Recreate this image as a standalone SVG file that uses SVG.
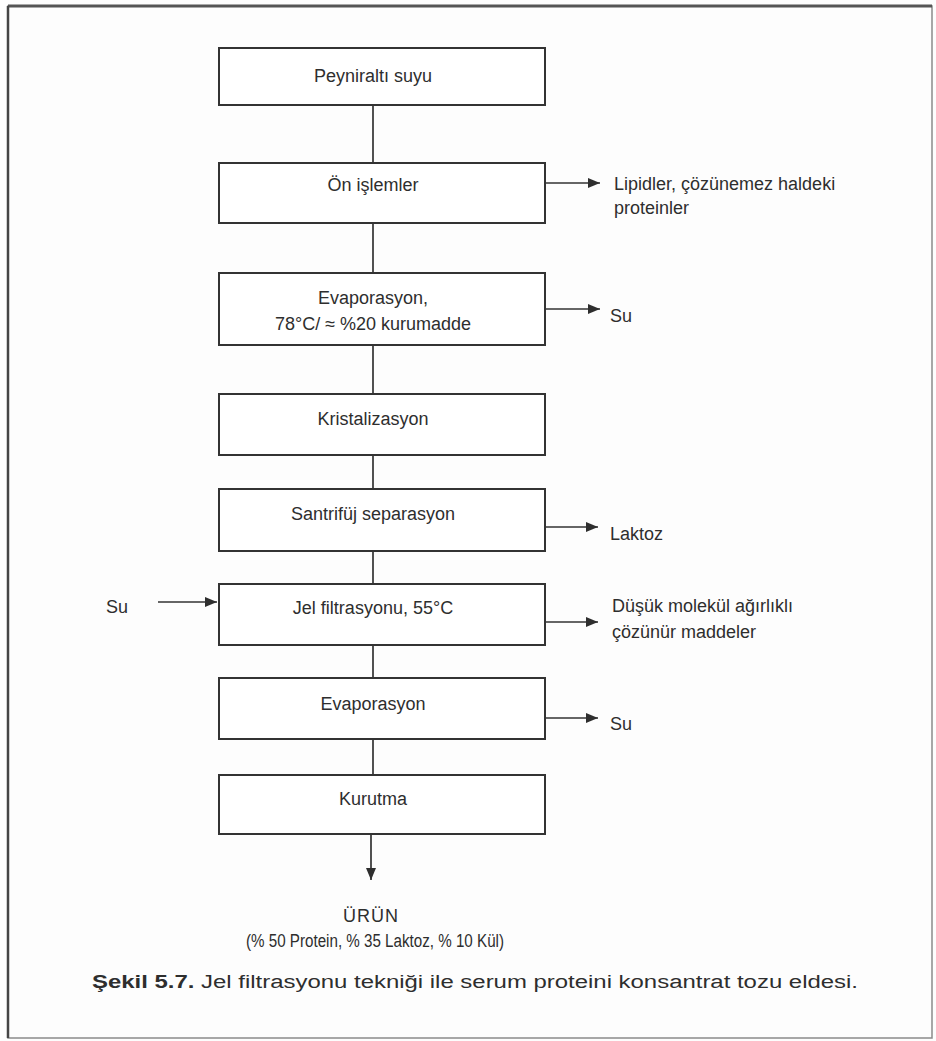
<svg xmlns="http://www.w3.org/2000/svg" width="936" height="1041" viewBox="0 0 936 1041">
  <style>
    .box { fill: #ffffff; stroke: #333333; stroke-width: 2; }
    .wire { stroke: #333333; stroke-width: 1.7; fill: none; }
    .t { font-family: "Liberation Sans", Arial, sans-serif; font-size: 18px; fill: #2e2e2e; }
    .c { text-anchor: middle; }
    .cap { font-family: "Liberation Sans", Arial, sans-serif; font-size: 18px; fill: #2e2e2e; }
  </style>
  <defs>
    <marker id="arrow" viewBox="0 0 12 10" refX="12" refY="5" markerWidth="12" markerHeight="10" markerUnits="userSpaceOnUse" orient="auto">
      <path d="M0,0 L12,5 L0,10 Z" fill="#2e2e2e"/>
    </marker>
  </defs>

  <!-- page frame -->
  <rect x="0" y="0" width="936" height="1041" fill="#fdfdfd"/>
  <rect x="8" y="6" width="924" height="1032" fill="none" stroke="#8a8a8a" stroke-width="1.5"/>
  <line x1="8" y1="6" x2="932" y2="6" stroke="#555555" stroke-width="3"/>
  <line x1="8" y1="6" x2="8" y2="1038" stroke="#444444" stroke-width="2.5"/>

  <!-- connectors -->
  <g id="connectors">
    <line class="wire" x1="373" y1="105" x2="373" y2="163"/>
    <line class="wire" x1="373" y1="223" x2="373" y2="273"/>
    <line class="wire" x1="373" y1="345" x2="373" y2="394"/>
    <line class="wire" x1="373" y1="455" x2="373" y2="489"/>
    <line class="wire" x1="373" y1="551" x2="373" y2="584"/>
    <line class="wire" x1="373" y1="645" x2="373" y2="678"/>
    <line class="wire" x1="373" y1="739" x2="373" y2="775"/>
    <line class="wire" x1="371" y1="834" x2="371" y2="880" marker-end="url(#arrow)"/>

    <line class="wire" x1="545" y1="183" x2="600" y2="183" marker-end="url(#arrow)"/>
    <line class="wire" x1="545" y1="309" x2="600" y2="309" marker-end="url(#arrow)"/>
    <line class="wire" x1="545" y1="527" x2="598" y2="527" marker-end="url(#arrow)"/>
    <line class="wire" x1="545" y1="622" x2="598" y2="622" marker-end="url(#arrow)"/>
    <line class="wire" x1="545" y1="718" x2="598" y2="718" marker-end="url(#arrow)"/>
    <line class="wire" x1="158" y1="602" x2="217" y2="602" marker-end="url(#arrow)"/>
  </g>

  <!-- process steps -->
  <g id="n1">
    <rect class="box" x="219" y="48" width="326" height="57"/>
    <text class="t c" x="373" y="82">Peyniraltı suyu</text>
  </g>
  <g id="n2">
    <rect class="box" x="219" y="163" width="326" height="60"/>
    <text class="t c" x="373" y="191">Ön işlemler</text>
  </g>
  <g id="n3">
    <rect class="box" x="219" y="273" width="326" height="72"/>
    <text class="t c" x="373" y="304">Evaporasyon,</text>
    <text class="t c" x="373" y="330">78°C/ ≈ %20 kurumadde</text>
  </g>
  <g id="n4">
    <rect class="box" x="219" y="394" width="326" height="61"/>
    <text class="t c" x="373" y="425">Kristalizasyon</text>
  </g>
  <g id="n5">
    <rect class="box" x="219" y="489" width="326" height="62"/>
    <text class="t c" x="373" y="520">Santrifüj separasyon</text>
  </g>
  <g id="n6">
    <rect class="box" x="219" y="584" width="326" height="61"/>
    <text class="t c" x="373" y="614">Jel filtrasyonu, 55°C</text>
  </g>
  <g id="n7">
    <rect class="box" x="219" y="678" width="326" height="61"/>
    <text class="t c" x="373" y="710">Evaporasyon</text>
  </g>
  <g id="n8">
    <rect class="box" x="219" y="775" width="326" height="59"/>
    <text class="t c" x="373" y="805">Kurutma</text>
  </g>

  <!-- side streams -->
  <g id="out-lipid">
    <text class="t" x="614" y="190">Lipidler, çözünemez haldeki</text>
    <text class="t" x="614" y="214">proteinler</text>
  </g>
  <g id="out-su1">
    <text class="t" x="610" y="322">Su</text>
  </g>
  <g id="out-laktoz">
    <text class="t" x="610" y="540">Laktoz</text>
  </g>
  <g id="in-su">
    <text class="t" x="106" y="613">Su</text>
  </g>
  <g id="out-dusuk">
    <text class="t" x="612" y="612">Düşük molekül ağırlıklı</text>
    <text class="t" x="612" y="638">çözünür maddeler</text>
  </g>
  <g id="out-su2">
    <text class="t" x="610" y="730">Su</text>
  </g>

  <!-- product -->
  <g id="product">
    <text class="t c" x="371" y="922" letter-spacing="1">ÜRÜN</text>
    <text class="t" x="246" y="947" textLength="258" lengthAdjust="spacingAndGlyphs">(% 50 Protein, % 35 Laktoz, % 10 Kül)</text>
  </g>

  <!-- caption -->
  <text class="cap" x="92" y="988" textLength="766" lengthAdjust="spacingAndGlyphs"><tspan font-weight="bold">Şekil 5.7.</tspan> Jel filtrasyonu tekniği ile serum proteini konsantrat tozu eldesi.</text>
</svg>
